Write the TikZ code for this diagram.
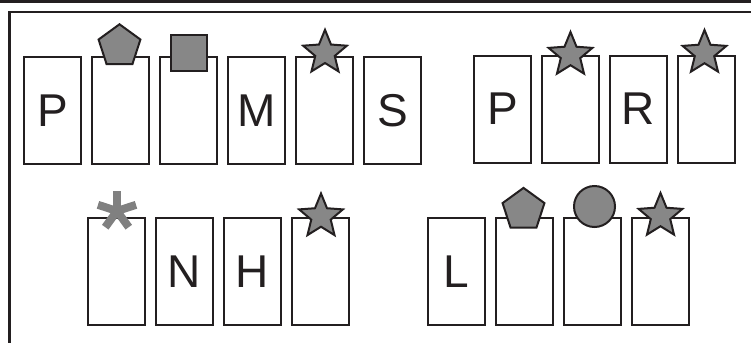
\documentclass[tikz,border=0pt]{standalone}
\usepackage{fontspec}
\setmainfont{Liberation Sans}
\usepackage{tikz}
\usetikzlibrary{shapes.geometric}
\definecolor{ink}{RGB}{35,31,32}
\definecolor{shade}{RGB}{135,135,135}
\definecolor{astgray}{RGB}{128,128,128}

\begin{document}
\begin{tikzpicture}[x=1pt, y=-1pt,
      cell/.style={draw=ink, line width=2pt, fill=white, inner sep=0pt,
        minimum width=57pt, minimum height=107pt,
        font=\fontsize{46}{46}\selectfont, text=ink},
      token/.style={draw=ink, line width=2pt, fill=shade, inner sep=0pt},
      pent/.style={token, regular polygon, regular polygon sides=5, minimum size=44pt},
      sq/.style={token, rectangle, minimum size=36pt},
      blob/.style={token, circle, minimum size=41pt},
      pstar/.style={token, star, star points=5, star point ratio=2.25, minimum size=46pt},
      spoke/.style={draw=astgray, line width=8pt},
    ]
    \useasboundingbox (0,0) rectangle (751,343);
    % Frame
    \draw[ink, line width=2.7pt] (0,1.3) -- (751,1.3);
    \draw[ink, line width=2.5pt] (751,12.2) -- (9.3,12.2) -- (9.3,343);

    % Upper row, left group
    \node[cell] (pa) at (52.5,110.5) {P};
    \node[cell] (pb) at (120.5,110.5) {};
    \node[cell] (pc) at (188.5,110.5) {};
    \node[cell] (pd) at (256.5,110.5) {M};
    \node[cell] (pe) at (324.5,110.5) {};
    \node[cell] (pf) at (392.5,110.5) {S};
    % Upper row, right group
    \node[cell] (qa) at (502.5,109) {P};
    \node[cell] (qb) at (570.5,109) {};
    \node[cell] (qc) at (638.5,109) {R};
    \node[cell] (qd) at (706.5,109) {};
    % Lower row, left group
    \node[cell] (na) at (116.5,271.5) {};
    \node[cell] (nb) at (184.5,271.5) {N};
    \node[cell] (nc) at (252.5,271.5) {H};
    \node[cell] (nd) at (320.5,271.5) {};
    % Lower row, right group
    \node[cell] (la) at (456.5,271.5) {L};
    \node[cell] (lb) at (524.5,271.5) {};
    \node[cell] (lc) at (592.5,271.5) {};
    \node[cell] (ld) at (660.5,271.5) {};

    % Marks on top of the cells
    \node[pent] (pbmark) at (119.5,46.3) {};
    \node[sq] (pcmark) at (189,52.5) {};
    \node[pstar] (pemark) at (325,52.8) {};
    \node[pstar] (qbmark) at (570.5,55) {};
    \node[pstar] (qdmark) at (704.5,53) {};
    \node[pstar] (ndmark) at (321,216.5) {};
    \node[pent] (lbmark) at (523.5,209.9) {};
    \node[blob] (lcmark) at (594.5,206.5) {};
    \node[pstar] (ldmark) at (660.5,216) {};

    % Asterisk
    \coordinate (nastk) at (117,211);
    \foreach \a in {-90,-18,54,126,198}
      \draw[spoke] (nastk) -- ++(\a:20);
  \end{tikzpicture}
\end{document}
